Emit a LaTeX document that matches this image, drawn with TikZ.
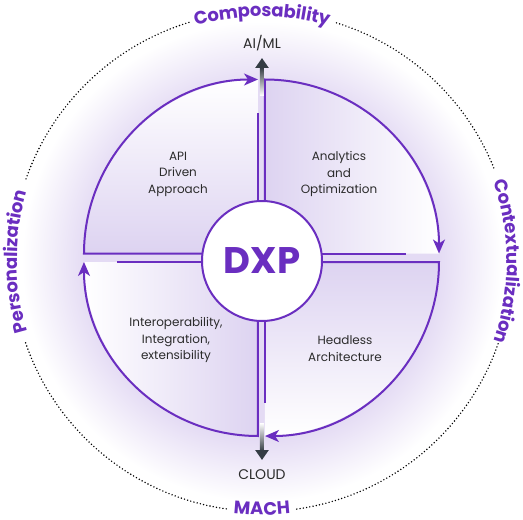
\documentclass[tikz,border=0pt]{standalone}
\usepackage{fontspec}
\setmainfont{Poppins}
\usepackage{tikz}
\usetikzlibrary{arrows.meta,decorations.text,positioning}
\definecolor{dxppurple}{HTML}{6A2EC0}
\definecolor{lav}{HTML}{DDD3F1}
\definecolor{glowc}{HTML}{E4DBF4}
\definecolor{greyd}{HTML}{343C44}
\definecolor{txtgrey}{HTML}{2B2B2B}
\pgfdeclareradialshading{glow}{\pgfpoint{0bp}{0bp}}{color(0bp)=(glowc); color(18bp)=(glowc); color(24.5bp)=(white); color(50bp)=(white)}
\tikzset{
quadedge/.style={dxppurple, line width=2pt}, % plain purple edge
quadarrow/.style={quadedge, -{Stealth[length=14pt,width=12pt,inset=4pt]}},
quadlabel/.style={align=center, text=txtgrey, font=\fontsize{12}{16.5}\selectfont},
ringlabel/.style={decorate, decoration={text along path, text align=center, raise=-5pt, text color=dxppurple, text={|\fontsize{18}{18}\selectfont\bfseries|#1}}},
dots/.style={line width=1.6pt, dash pattern=on 0pt off 3.3pt, line cap=round},
axislabel/.style={text=txtgrey, font=\fontsize{14}{14}\selectfont}
}
\begin{document}
\begin{tikzpicture}[x=1pt,y=1pt]
    \useasboundingbox (-262,-258.5) rectangle (261,261.5);
    % glow behind the wheel
    \shade[shading=glow] (0,0) circle (245pt);
    % dotted outer ring
    \draw[dots] (22:250) arc[start angle=22, end angle=73, radius=250pt];
    \draw[dots] (107:250) arc[start angle=107, end angle=161, radius=250pt];
    \draw[dots] (199:250) arc[start angle=199, end angle=262, radius=250pt];
    \draw[dots] (278:250) arc[start angle=278, end angle=341, radius=250pt];
    \path[ringlabel=Composability] (110:250) arc[start angle=110, end angle=70, radius=250pt];
    \path[ringlabel=Contextualization] (25:250) arc[start angle=25, end angle=-25, radius=250pt];
    \path[ringlabel=Personalization] (203:250) arc[start angle=203, end angle=157, radius=250pt];
    \path[ringlabel=MACH, decoration={raise=-3.5pt}] (258:250) arc[start angle=258, end angle=282, radius=250pt];
    % four quadrants, corner/start angle
    \foreach \cx/\cy/\a in {-4/8/180, 3/8/90, 3/-0.5/0, -4/-0.5/-90}{
        \pgfmathsetmacro\sa{\a-180}
        \shade[bottom color=lav, top color=white, shading angle=\sa] (\cx,\cy) -- ++(\a:174) arc[start angle=\a, end angle=\a-90, radius=174pt] -- cycle;
        \draw[quadedge] (\cx,\cy) -- ++(\a-90:141);
        \draw[quadarrow] (\cx,\cy) -- ++(\a:174) arc[start angle=\a, end angle=\a-90, radius=174pt];
    }
    % axis arrows
    \node[axislabel] (aiml) at (0,218.5) {AI/ML};
    \coordinate (aimlbase) at (0,193);
    \coordinate (aimltip) at (0,203.5);
    \shade[top color=greyd, bottom color=white] (-2,166) rectangle (2,194);
    \draw[greyd, line width=4pt, -{Triangle[length=10pt,width=13pt]}] (aimlbase) -- (aimltip);
    \node[axislabel] (cloud) at (0,-213.5) {CLOUD};
    \coordinate (cloudbase) at (0,-188.5);
    \coordinate (cloudtip) at (0,-198.5);
    \shade[top color=white, bottom color=greyd] (-2,-161.5) rectangle (2,-189.5);
    \draw[greyd, line width=4pt, -{Triangle[length=10pt,width=13pt]}] (cloudbase) -- (cloudtip);
    % hub
    \node[circle, draw=dxppurple, line width=2pt, fill=white, minimum size=120pt, inner sep=0pt, text=dxppurple, font=\fontsize{37}{37}\selectfont\bfseries] (dxp) at (0,0.5) {DXP};
    \node[quadlabel] (api) at (-84,87.5) {API\\Driven\\Approach};
    \node[quadlabel] (analytics) at (77,87.5) {Analytics\\and\\Optimization};
    \node[quadlabel] (headless) at (83,-87) {Headless\\Architecture};
    \node[quadlabel] (interop) at (-86,-78.5) {Interoperability,\\Integration,\\extensibility};
\end{tikzpicture}
\end{document}
